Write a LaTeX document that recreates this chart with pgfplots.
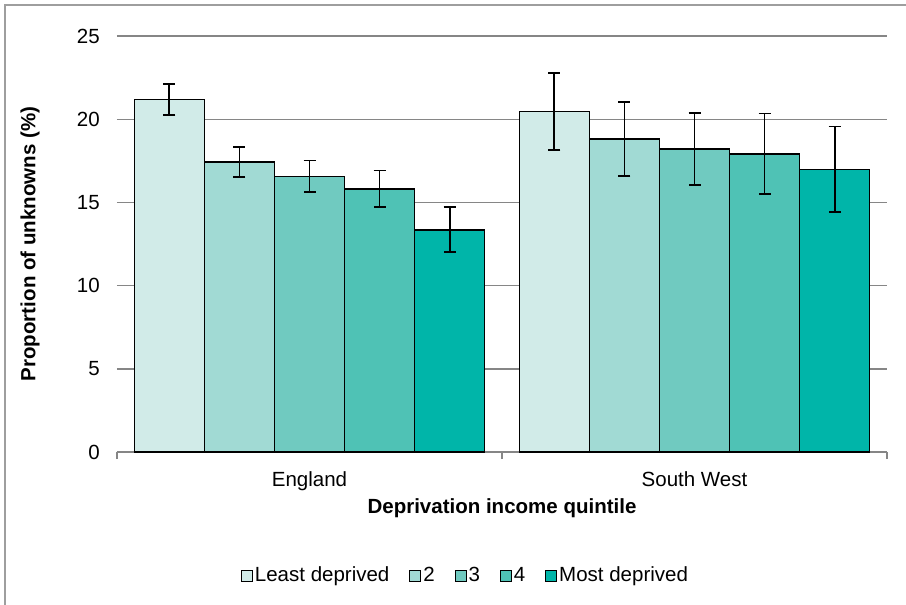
\documentclass[border=0pt]{standalone}
\usepackage{pgfplots}
\pgfplotsset{compat=1.18}
\usepackage{fontspec}
\setmainfont{Liberation Sans}
\definecolor{c1}{HTML}{D1EBE8}
\definecolor{c2}{HTML}{A1DAD4}
\definecolor{c3}{HTML}{70CAC0}
\definecolor{c4}{HTML}{4FC2B5}
\definecolor{c5}{HTML}{00B5A9}
\definecolor{gridgray}{HTML}{868686}
\newcommand{\fs}{\fontsize{20.5}{24}\selectfont}
\pgfplotsset{mylegend/.style={legend image code/.code={\draw[##1,draw=black,line width=0.9pt] (0pt,-5.5pt) rectangle (11pt,5.5pt);}}}
\begin{document}
\fs
\begin{tikzpicture}
\useasboundingbox (0pt,0pt) rectangle (906pt,-605pt);
\draw[gridgray!80, line width=1.2pt] (5pt,-606pt) -- (5pt,-5pt) -- (907pt,-5pt);
\begin{axis}[
  at={(117pt,-452pt)}, anchor=south west,
  scale only axis, width=770pt, height=416pt,
  ybar=0pt, bar width=0.182,
  xmin=-0.5, xmax=1.5, ymin=0, ymax=25,
  ytick={0,5,10,15,20,25},
  xtick={0,1}, xticklabels={England, South West},
  minor xtick={-0.5,0.5,1.5},
  major x tick style={draw=none},
  minor x tick style={gridgray, line width=1.2pt},
  minor tick length=7pt,
  tick align=outside,
  ytick style={draw=none},
  axis x line*=bottom, axis y line*=left,
  x axis line style={gridgray, line width=1.4pt, -},
  y axis line style={draw=none},
  ymajorgrids, grid style={gridgray, line width=1.4pt},
  tick label style={font=\fs},
  /pgf/number format/assume math mode=true,
  yticklabel style={xshift=-6pt},
  xticklabel style={yshift=-8pt},
  xlabel={\textbf{Deprivation income quintile}},
  xlabel style={at={(axis description cs:0.5,0)}, anchor=center, yshift=-56pt, font=\fs},
  ylabel={\textbf{Proportion of unknowns (\%)}},
  ylabel style={at={(axis description cs:-0.113,0.5)}, anchor=center, font=\fs},
  legend columns=-1,
  legend style={at={(0.4526,-0.297)}, anchor=center, draw=none, fill=none,
    font=\fs,
    nodes={inner xsep=2pt},
    /tikz/every even column/.append style={column sep=18pt}},
  every axis plot/.append style={draw=black, line width=1.6pt,
    error bars/y dir=both, error bars/y explicit,
    error bars/error bar style={black, line width=1.8pt},
    error bars/error mark options={rotate=90, mark size=6pt, line width=1.8pt, black}},
]
\addplot[fill=c1, mylegend] coordinates {(0,21.18) += (0,0.94) -= (0,0.92) (1,20.46) += (0,2.34) -= (0,2.30)};
\addplot[fill=c2, mylegend] coordinates {(0,17.42) += (0,0.90) -= (0,0.90) (1,18.80) += (0,2.24) -= (0,2.20)};
\addplot[fill=c3, mylegend] coordinates {(0,16.56) += (0,0.96) -= (0,0.94) (1,18.20) += (0,2.18) -= (0,2.16)};
\addplot[fill=c4, mylegend] coordinates {(0,15.82) += (0,1.10) -= (0,1.09) (1,17.92) += (0,2.42) -= (0,2.41)};
\addplot[fill=c5, mylegend] coordinates {(0,13.33) += (0,1.37) -= (0,1.30) (1,16.98) += (0,2.58) -= (0,2.58)};
\legend{Least deprived, 2, 3, 4, Most deprived}
\end{axis}
\end{tikzpicture}
\end{document}
